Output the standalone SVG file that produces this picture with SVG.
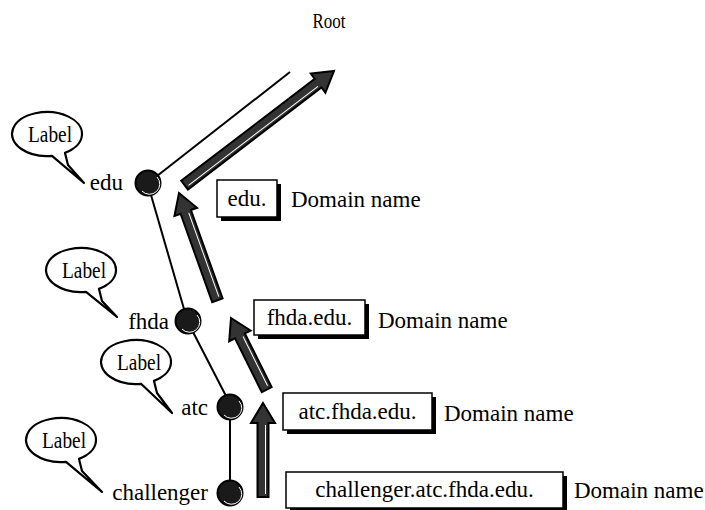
<svg xmlns="http://www.w3.org/2000/svg" width="705" height="510" viewBox="0 0 705 510">
<style>
text{font-family:"Liberation Serif","Times New Roman",serif;fill:#000}
.t{font-size:23px}
.lbl{font-size:22.5px;text-anchor:middle}
.bubble{fill:#fff;stroke:#000;stroke-width:2.2;stroke-linejoin:round}
.edge{stroke:#000;stroke-width:2;fill:none}
.node{fill:#1a1a1a;stroke:#000;stroke-width:2}
.hl{fill:none;stroke:#fff;stroke-width:1}
.arr{fill:#333;stroke:#000;stroke-width:2;stroke-linejoin:miter}
.arrhl{stroke:#fff;stroke-width:1;fill:none}
.shadow{fill:#000}
.box{fill:#fff;stroke:#000;stroke-width:1.5}
</style>
<rect width="705" height="510" fill="#fff"/>
<text id="root" x="329" y="28" text-anchor="middle" font-size="20" textLength="33" lengthAdjust="spacingAndGlyphs">Root</text>

<g id="connectors">
  <line class="edge" x1="157" y1="176" x2="290" y2="72"/>
  <line class="edge" x1="151" y1="195" x2="184" y2="309"/>
  <line class="edge" x1="193" y1="332" x2="226" y2="396"/>
  <line class="edge" x1="230" y1="419" x2="230" y2="481"/>
  <g transform="translate(334,71) rotate(52.63)">
    <polygon class="arr" points="0,0 12,20 5.5,20 5.5,188 -5.5,188 -5.5,20 -12,20"/>
    <line class="arrhl" x1="2.5" y1="22" x2="2.5" y2="185"/>
  </g>
  <g transform="translate(179,193) rotate(-19.69)">
    <polygon class="arr" points="0,0 12,20 5.5,20 5.5,114 -5.5,114 -5.5,20 -12,20"/>
    <line class="arrhl" x1="2.5" y1="22" x2="2.5" y2="111"/>
  </g>
  <g transform="translate(231,318) rotate(-26.5)">
    <polygon class="arr" points="0,0 12,20 5.5,20 5.5,80 -5.5,80 -5.5,20 -12,20"/>
    <line class="arrhl" x1="2.5" y1="22" x2="2.5" y2="77"/>
  </g>
  <g transform="translate(263,403)">
    <polygon class="arr" points="0,0 12,20 5.5,20 5.5,94 -5.5,94 -5.5,20 -12,20"/>
    <line class="arrhl" x1="2.5" y1="22" x2="2.5" y2="91"/>
  </g>
</g>

<g id="node-edu">
  <circle class="node" cx="148" cy="183" r="12.5"/>
  <path class="hl" d="M157,177 A9,9 0 0 1 142,191"/>
  <text class="t" x="123" y="190" text-anchor="end">edu</text>
</g>
<g id="node-fhda">
  <circle class="node" cx="188" cy="321" r="12.5"/>
  <path class="hl" d="M197,315 A9,9 0 0 1 182,329"/>
  <text class="t" x="169" y="329" text-anchor="end">fhda</text>
</g>
<g id="node-atc">
  <circle class="node" cx="230" cy="407" r="12.5"/>
  <path class="hl" d="M239,401 A9,9 0 0 1 224,415"/>
  <text class="t" x="208" y="415" text-anchor="end">atc</text>
</g>
<g id="node-challenger">
  <circle class="node" cx="230" cy="493" r="12.5"/>
  <path class="hl" d="M239,487 A9,9 0 0 1 224,501"/>
  <text class="t" x="208" y="500" text-anchor="end">challenger</text>
</g>

<g id="label-edu">
  <path class="bubble" d="M52,155.8 A35,22 0 1 1 65,152.9 L68,165 L84,183 Z"/>
  <text class="lbl" x="50" y="142" textLength="44" lengthAdjust="spacingAndGlyphs">Label</text>
</g>
<g id="label-fhda">
  <path class="bubble" d="M86,291.8 A35,22 0 1 1 99,288.9 L102,301 L117,317 Z"/>
  <text class="lbl" x="84" y="278" textLength="44" lengthAdjust="spacingAndGlyphs">Label</text>
</g>
<g id="label-atc">
  <path class="bubble" d="M141,383.8 A35,22 0 1 1 154,380.9 L157,393 L172,413 Z"/>
  <text class="lbl" x="139" y="370" textLength="44" lengthAdjust="spacingAndGlyphs">Label</text>
</g>
<g id="label-challenger">
  <path class="bubble" d="M66,461.8 A35,22 0 1 1 79,458.9 L82,471 L102,492 Z"/>
  <text class="lbl" x="64" y="448" textLength="44" lengthAdjust="spacingAndGlyphs">Label</text>
</g>

<g id="dn-edu">
  <rect class="shadow" x="221" y="184" width="60" height="37"/>
  <rect class="box" x="217" y="180" width="60" height="37"/>
  <text class="t" x="247" y="206" text-anchor="middle">edu.</text>
  <text class="t" x="291" y="207">Domain name</text>
</g>
<g id="dn-fhda">
  <rect class="shadow" x="258" y="304" width="111" height="35"/>
  <rect class="box" x="254" y="300" width="111" height="35"/>
  <text class="t" x="309.5" y="325" text-anchor="middle">fhda.edu.</text>
  <text class="t" x="378" y="328">Domain name</text>
</g>
<g id="dn-atc">
  <rect class="shadow" x="287" y="397" width="149" height="37"/>
  <rect class="box" x="283" y="393" width="149" height="37"/>
  <text class="t" x="357.5" y="419" text-anchor="middle">atc.fhda.edu.</text>
  <text class="t" x="444" y="421">Domain name</text>
</g>
<g id="dn-challenger">
  <rect class="shadow" x="290" y="476" width="277" height="36"/>
  <rect class="box" x="286" y="472" width="277" height="36"/>
  <text class="t" x="424.5" y="497" text-anchor="middle">challenger.atc.fhda.edu.</text>
  <text class="t" x="574" y="498">Domain name</text>
</g>
</svg>
